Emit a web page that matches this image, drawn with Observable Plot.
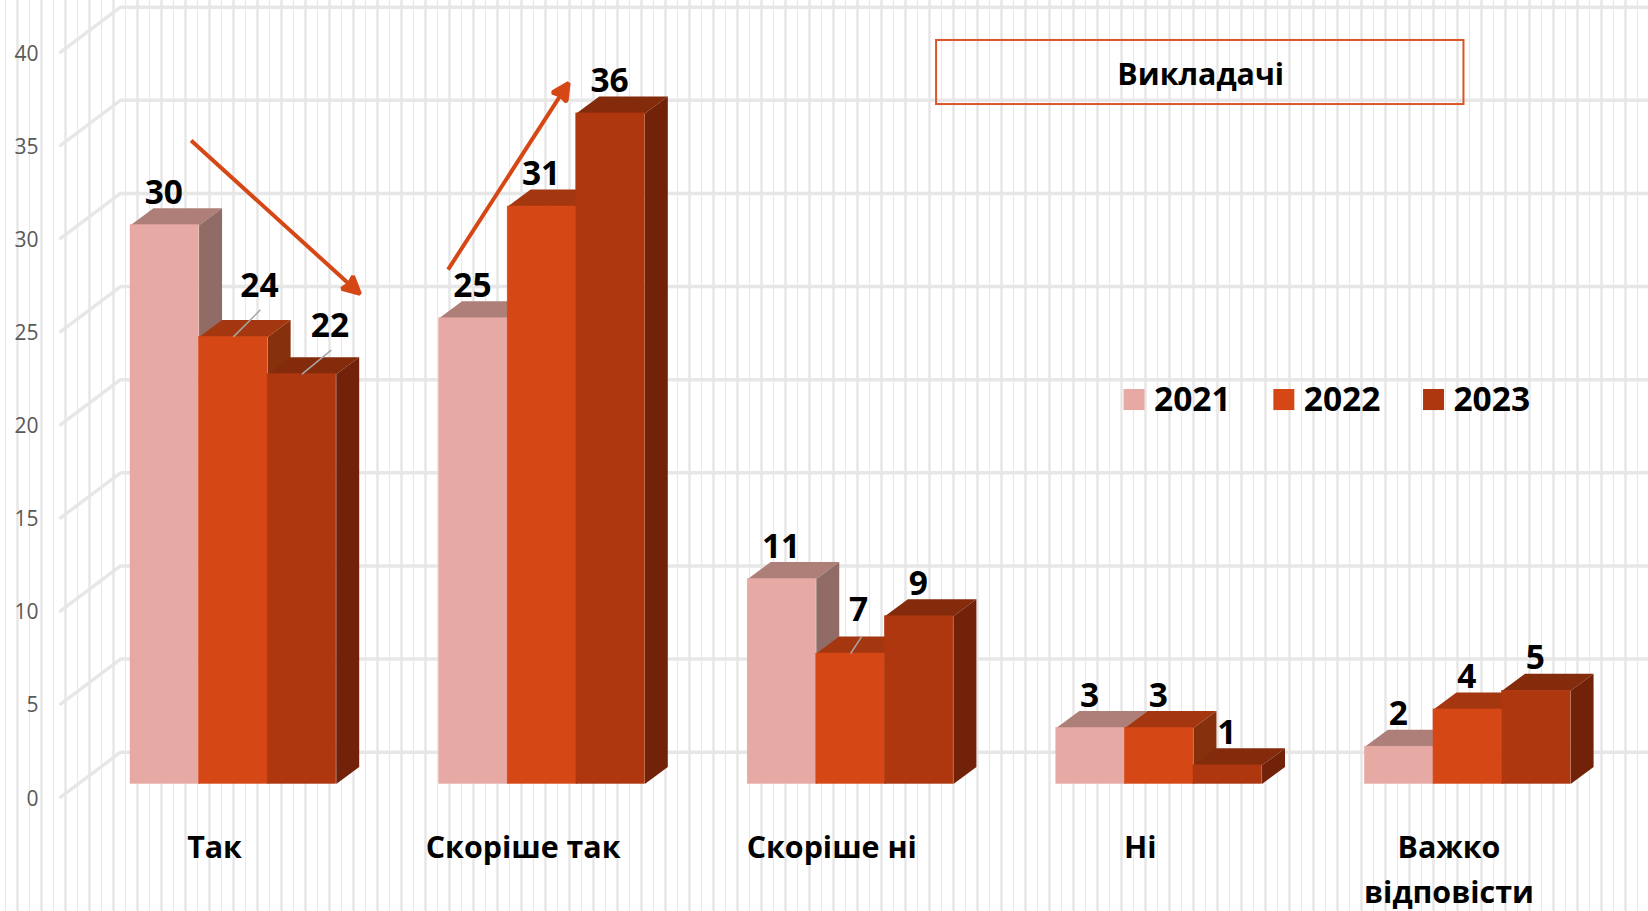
<!DOCTYPE html>
<html lang="uk">
<head>
<meta charset="utf-8">
<script src="https://cdn.jsdelivr.net/npm/d3@7"></script>
<script src="https://cdn.jsdelivr.net/npm/@observablehq/plot@0.6"></script>
<style>
  html, body { margin: 0; padding: 0; background: #fff; }
  svg { display: block; }
</style>
</head>
<body>
<div id="chart"></div>
<script>
// ---- data ----
const categories = ["Так", "Скоріше так", "Скоріше ні", "Ні", "Важко\nвідповісти"];
const years = ["2021", "2022", "2023"];
const values2021 = [30, 25, 11, 3, 2];
const values2022 = [24, 31, 7, 3, 4];
const values2023 = [22, 36, 9, 1, 5];
const yTicks = [0, 5, 10, 15, 20, 25, 30, 35, 40];
const chartTitle = "Викладачі";

// ---- colours ----
const frontColors = ["#E7A9A3", "#D54816", "#AE3710"];
const topColors = ["#AE7F79", "#A4370F", "#842B0C"];
const sideColors = ["#916C66", "#87300C", "#712208"];
const accent = "#D54816";

// ---- 3-D layout, in scale units ----
const barWidth = 2 / 9;      // three bars + half a group of gap = one category
const depthX = 0.0744;       // how far a bar's back edge is shifted right
const depthY = 0.913;        // and up
const floorLift = 0.714;     // bars stand this far above the front-of-floor axis
const wallX = -0.0324, floorX = -0.2265, wallLift = 2.416, gridEnd = 5;

const rows = categories.flatMap((category, i) =>
  [values2021, values2022, values2023].map((vals, j) => ({
    category, i, j, year: years[j], value: vals[i],
    x1: i + j * barWidth, x2: i + (j + 1) * barWidth,
    y1: floorLift, y2: vals[i] + floorLift
  }))
);

// labels sitting off their bars, with a leader line: [x shift, rise]
const labelOffset = { "0|2022": [0.0874, 2.74], "0|2023": [0.0939, 2.58], "2|2022": [0.029, 2.31] };
const leaderEnd = { "0|2022": [0.0874, 1.45], "0|2023": [0.095, 1.29], "2|2022": [0.036, 0.91] };
const defaultRise = 1.72;
const labelNudge = -0.003;

const labelRows = rows.map(r => {
  const [dx, rise] = labelOffset[`${r.i}|${r.year}`] || [0, defaultRise];
  return { ...r, lx: (r.x1 + r.x2) / 2 + dx + labelNudge, ly: r.y2 + rise };
});
const leaders = rows.filter(r => leaderEnd[`${r.i}|${r.year}`]).map(r => {
  const [dx, rise] = leaderEnd[`${r.i}|${r.year}`];
  const c = (r.x1 + r.x2) / 2;
  return { x1: c, y1: r.y2, x2: c + dx, y2: r.y2 + rise };
});

// the two trend arrows
const trendArrows = [
  { x1: 0.1964, y1: 35.26, x2: 0.71, y2: 27.53 },
  { x1: 1.029, y1: 28.33, x2: 1.395, y2: 37.72 }
];

const legendX = [3.2196, 3.705, 4.19];
const legend = years.map((year, k) => ({ year, x: legendX[k] }));

// backdrop rules: alternating thin and heavy, every 24 px of the 1648 px frame
const xAt = px => (px - 130) / 308.6;
const thinRules = d3.range(5, 1648, 24).map(xAt);
const heavyRules = d3.range(17, 1648, 24).map(xAt);

const gridPaths = yTicks.flatMap(v => [
  { v, x: floorX, y: v },
  { v, x: wallX, y: v + wallLift },
  { v, x: gridEnd, y: v + wallLift }
]);

function arrowHead(color, context) {
  const ns = "http://www.w3.org/2000/svg";
  const marker = context.document.createElementNS(ns, "marker");
  marker.setAttribute("viewBox", "-6 -10 24 20");
  marker.setAttribute("markerWidth", 24);
  marker.setAttribute("markerHeight", 20);
  marker.setAttribute("refX", 0);
  marker.setAttribute("refY", 0);
  marker.setAttribute("markerUnits", "userSpaceOnUse");
  marker.setAttribute("orient", "auto");
  const path = context.document.createElementNS(ns, "path");
  path.setAttribute("d", "M-3,-8.5L14,0L-3,8.5L-1,0Z");
  path.setAttribute("fill", color);
  marker.appendChild(path);
  return marker;
}

const barMarks = rows.flatMap(r => {
  const top = [
    { x: r.x1, y: r.y2 }, { x: r.x2, y: r.y2 },
    { x: r.x2 + depthX, y: r.y2 + depthY }, { x: r.x1 + depthX, y: r.y2 + depthY }
  ];
  const side = [
    { x: r.x2, y: r.y1 }, { x: r.x2 + depthX, y: r.y1 + depthY },
    { x: r.x2 + depthX, y: r.y2 + depthY }, { x: r.x2, y: r.y2 }
  ];
  return [
    Plot.line(top, { x: "x", y: "y", fill: topColors[r.j], stroke: "none" }),
    Plot.line(side, { x: "x", y: "y", fill: sideColors[r.j], stroke: "none" }),
    Plot.rect([r], { x1: "x1", x2: "x2", y1: "y1", y2: "y2", fill: "year", stroke: "year", strokeWidth: 0.5 })
  ];
});

const chart = Plot.plot({
  width: 1648,
  height: 911,
  marginLeft: 45,
  marginRight: 0,
  marginTop: 0,
  marginBottom: 0,
  style: { fontFamily: "'Open Sans', sans-serif", background: "#fff", overflow: "hidden" },
  x: { domain: [-0.27544, 4.91899], axis: null },
  y: { domain: [-6.137, 42.776], label: null },
  color: { type: "ordinal", domain: years, range: frontColors },
  marks: [
    Plot.ruleX(thinRules, { stroke: "#E9E9E9", strokeWidth: 1.2 }),
    Plot.line(gridPaths, { x: "x", y: "y", z: "v", stroke: "#E7E7E7", strokeWidth: 3.5, curve: "linear" }),
    Plot.ruleX(heavyRules, { stroke: "#E6E6E6", strokeWidth: 2.4 }),
    Plot.axisY(yTicks, { tickSize: 0, tickPadding: 7, fontSize: 21, fill: "#595959", label: null, dy: 1.6 }),

    ...barMarks,

    Plot.link(leaders, { x1: "x1", y1: "y1", x2: "x2", y2: "y2", stroke: "#A6A6A6", strokeWidth: 1.5 }),
    Plot.text(labelRows, {
      x: "lx", y: "ly", text: "value", fontSize: 33.5, fontWeight: 700, fill: "#000", lineAnchor: "middle"
    }),

    Plot.link(trendArrows, {
      x1: "x1", y1: "y1", x2: "x2", y2: "y2",
      stroke: accent, strokeWidth: 4, markerEnd: arrowHead
    }),

    // category labels
    Plot.text(categories.map((text, i) => ({ text, x: i + 1 / 3 - 0.061 })), {
      x: "x", y: () => -1.54, text: "text", fontSize: 30.4, fontWeight: 700, fill: "#000",
      lineAnchor: "top", lineHeight: 1.48
    }),

    // title box
    Plot.rect([{ x1: 2.612, x2: 4.321, y1: 37.19, y2: 40.63 }], {
      x1: "x1", x2: "x2", y1: "y1", y2: "y2", fill: "none", stroke: "#DA5527", strokeWidth: 2
    }),
    Plot.text([chartTitle], {
      x: () => 3.468, y: () => 38.76, text: d => d, fontSize: 30.4, fontWeight: 700, fill: "#000", lineAnchor: "middle"
    }),

    // legend
    Plot.rect(legend, {
      x1: "x", x2: d => d.x + 0.068, y1: () => 20.76, y2: () => 21.89, fill: "year"
    }),
    Plot.text(legend, {
      x: d => d.x + 0.097, y: () => 21.3, text: "year", textAnchor: "start",
      fontSize: 33.5, fontWeight: 700, fill: "#000", lineAnchor: "middle"
    })
  ]
});

document.getElementById("chart").appendChild(chart);
</script>
</body>
</html>
